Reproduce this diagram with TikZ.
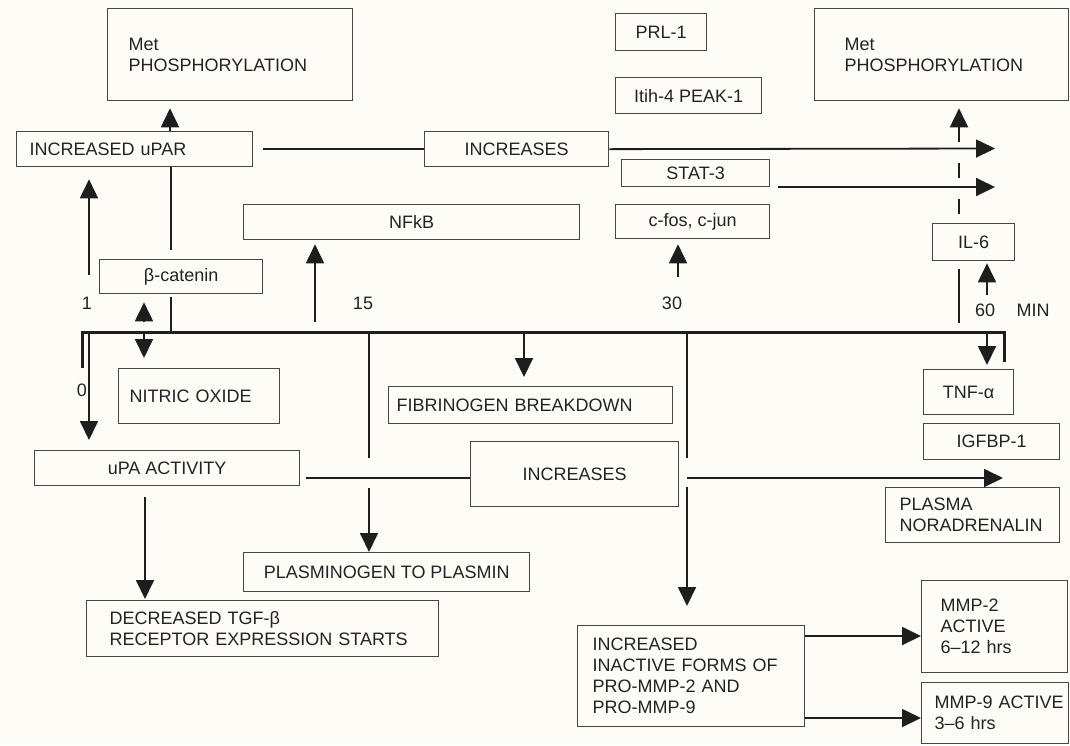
\documentclass[tikz,border=0pt]{standalone}
\usepackage{fontspec}
\setmainfont{Liberation Sans}
\usetikzlibrary{arrows.meta}
\definecolor{bg}{RGB}{253,252,247}
\definecolor{ln}{RGB}{30,30,30}
\definecolor{bxc}{RGB}{70,70,70}
\definecolor{tx}{RGB}{35,35,35}
\newcommand\padL[1]{\leftskip=#1pt\relax}
\begin{document}
\begin{tikzpicture}[x=1pt,y=-1pt,
  bx/.style={draw=bxc, line width=1.3pt, fill=bg, inner ysep=0pt, anchor=north west,
    font=\fontsize{18}{21}\selectfont, text=tx},
  lbx/.style={align=left, inner xsep=0pt, text width=#1},
  lbl/.style={font=\fontsize{18}{21}\selectfont, text=tx, inner sep=0pt},
  ln2/.style={draw=ln, line width=1.8pt},
  arr/.style={ln2, -{Triangle[length=19pt,width=18pt]}},
  tline/.style={draw=ln, line width=3pt, line join=miter}]
\fill[bg] (0,0) rectangle (1070,745);
\useasboundingbox (0,0) rectangle (1070,745);

% boxes
\node[bx, lbx=245pt, minimum height=92pt] (met1) at (107,8) {\padL{21}Met\\PHOSPHORYLATION\par};
\node[bx, lbx=236pt, minimum height=35pt] (upar) at (16,131) {\padL{13}INCREASED uPAR\par};
\node[bx, minimum width=184pt, minimum height=35pt] (inc1) at (424,131) {INCREASES};
\node[bx, minimum width=91pt, minimum height=37pt] (prl) at (615,13) {PRL-1};
\node[bx, minimum width=146pt, minimum height=36pt] (itih) at (615,77) {Itih-4 PEAK-1};
\node[bx, lbx=254pt, minimum height=92pt] (met2) at (814,8) {\padL{30}Met\\PHOSPHORYLATION\par};
\node[bx, minimum width=148pt, minimum height=27pt] (stat) at (621,159) {STAT-3};
\node[bx, minimum width=336pt, minimum height=35pt] (nfkb) at (243,204) {NFkB};
\node[bx, minimum width=154pt, minimum height=34pt] (cfos) at (615,204) {c-fos, c-jun};
\node[bx, minimum width=82pt, minimum height=37pt] (il6) at (932,223) {IL-6};
\node[bx, minimum width=163pt, minimum height=34pt] (bcat) at (99,259) {β-catenin};
\node[bx, lbx=161pt, minimum height=55pt] (no) at (118,368) {\padL{11}NITRIC OXIDE\par};
\node[bx, lbx=284pt, minimum height=37pt] (fib) at (388,386) {\padL{8}FIBRINOGEN BREAKDOWN\par};
\node[bx, minimum width=90pt, minimum height=45pt] (tnf) at (923,369) {TNF-α};
\node[bx, minimum width=136pt, minimum height=36pt] (igf) at (923,423) {IGFBP-1};
\node[bx, minimum width=265pt, minimum height=35pt] (upa) at (34,450) {uPA ACTIVITY};
\node[bx, minimum width=208pt, minimum height=65pt] (inc2) at (470,441) {INCREASES};
\node[bx, lbx=174pt, minimum height=55pt] (plasma) at (885,487) {\padL{14}PLASMA\\NORADRENALIN\par};
\node[bx, minimum width=286pt, minimum height=39pt] (plg) at (243,552) {PLASMINOGEN TO PLASMIN};
\node[bx, lbx=352pt, minimum height=56pt] (tgf) at (86,600) {\padL{23}DECREASED TGF-β\\RECEPTOR EXPRESSION STARTS\par};
\node[bx, lbx=227pt, minimum height=101pt] (mmpinc) at (577,625) {\padL{15}INCREASED\\INACTIVE FORMS OF\\PRO-MMP-2 AND\\PRO-MMP-9\par};
\node[bx, lbx=146pt, minimum height=92pt] (mmp2) at (921,580) {\padL{19}MMP-2\\ACTIVE\\6–12 hrs\par};
\node[bx, lbx=147pt, minimum height=61pt] (mmp9) at (921,682) {\padL{13}MMP-9 ACTIVE\\3–6 hrs\par};

% labels
\node[lbl] (l1) at (87,303) {1};
\node[lbl] (l0) at (82,390) {0};
\node[lbl] (l15) at (363,303) {15};
\node[lbl] (l30) at (672,303) {30};
\node[lbl] (l60) at (985,310) {60};
\node[lbl] (lmin) at (1033,310) {MIN};

% helper coordinates
\coordinate (tl0) at (82,332);
\coordinate (tl1) at (1004,332);
\coordinate (xa) at (89,0);
\coordinate (cA) at (170,0);
\coordinate (cB) at (171,0);
\coordinate (cC) at (144,0);
\coordinate (cE) at (524,0);
\coordinate (cG) at (987,0);
\coordinate (cH) at (959,0);
\coordinate (c15) at (369,0);
\coordinate (c30) at (687,0);
\coordinate (h2) at (0,478);
\coordinate (r1) at (0,636);
\coordinate (r2) at (0,718);

% timeline
\draw[tline] (82,368) -- (tl0) -- (tl1) -- (1004,362);

% connectors
\draw[arr, shorten >=7pt] (upar.north -| cA) -- (met1.south -| cA);
\draw[arr, shorten >=12pt] (89,275) coordinate (s1) -- (upar.south -| s1);
\draw[ln2] (upar.south -| cB) -- (171,250);
\draw[ln2] (171,297) -- (tl0 -| cB);
\draw[arr, shorten >=8pt] (144,322) coordinate (s2) -- (bcat.south -| s2);
\draw[arr, shorten >=10pt] (tl0 -| cC) -- (no.north -| cC);
\draw[arr, shorten >=10pt] (tl0 -| xa) -- (upa.north -| xa);
\draw[arr, shorten >=4pt] (315,322) coordinate (s3) -- (nfkb.south -| s3);
\draw[arr, shorten >=9pt] (tl0 -| cE) -- (fib.north -| cE);
\draw[arr, shorten >=5pt] (678,277) coordinate (s4) -- (cfos.south -| s4);
\draw[arr, shorten >=2pt] (987,295) coordinate (s5) -- (il6.south -| s5);
\draw[arr, shorten >=4pt] (tl0 -| cG) -- (tnf.north -| cG);
\draw[ln2] (959,269) -- (959,323);
\draw[ln2] (959,214) -- (959,199);
\draw[ln2] (959,178) -- (959,163);
\draw[arr, shorten >=7pt] (959,142) -- (met2.south -| cH);

\draw[ln2] ([xshift=10pt]upar.east) -- (inc1.west);
\draw[arr] (inc1.east) -- (995,148.5) coordinate (e1);
\draw[arr] (778,187) -- (995,187);

\draw[ln2] (306,478) -- (inc2.west |- h2);
\draw[arr] (687,478) -- (1003,478);

\draw[ln2] (tl0 -| c15) -- (369,458);
\draw[arr] (369,488) coordinate (s6) -- (plg.north -| s6);
\draw[ln2] (tl0 -| c30) -- (687,458);
\draw[arr, shorten >=19pt] (687,487) coordinate (s7) -- (mmpinc.north -| s7);
\draw[arr, shorten >=1pt] (145,497) coordinate (s8) -- (tgf.north -| s8);

\draw[arr] (mmpinc.east |- r1) -- (mmp2.west |- r1);
\draw[arr] (mmpinc.east |- r2) -- (mmp9.west |- r2);
\end{tikzpicture}
\end{document}
